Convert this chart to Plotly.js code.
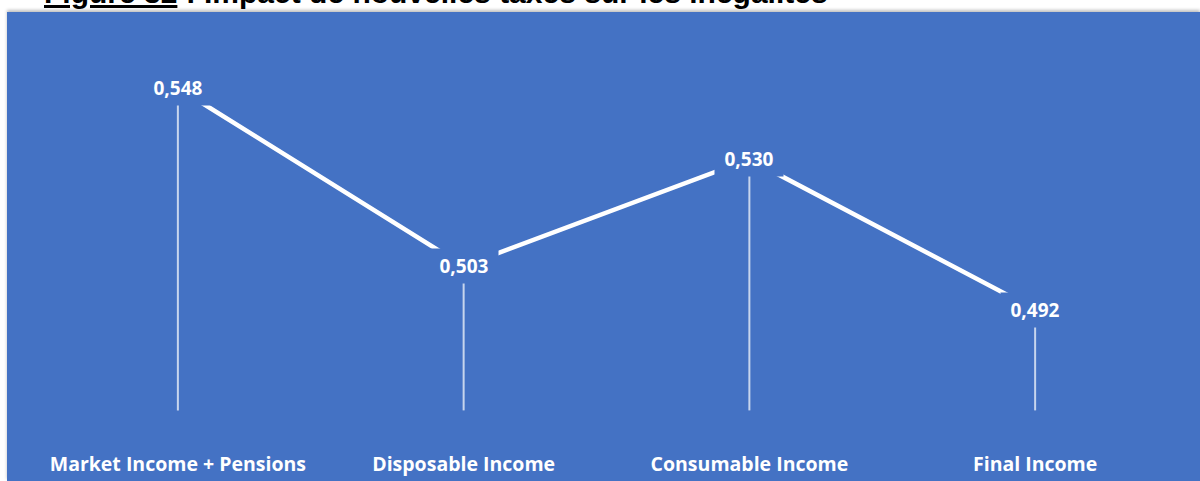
<!DOCTYPE html>
<html>
<head>
<meta charset="utf-8">
<script src="https://cdn.plot.ly/plotly-3.0.1.min.js"></script>
<style>
  html, body { margin: 0; padding: 0; background: #ffffff; }
  #bg { position: absolute; left: 7px; top: 12px; width: 1193px; height: 469px; background: #4472C4;
        box-shadow: 0 -2px 3px rgba(0,0,0,0.25); }
  #chart { position: absolute; left: 0; top: 0; width: 1200px; height: 481px; }
</style>
</head>
<body>
<div id="bg"></div>
<div id="chart"></div>
<script>
// Data
const categories = ["Market Income + Pensions", "Disposable Income", "Consumable Income", "Final Income"];
const giniValues = [0.548, 0.503, 0.530, 0.492];
const valueLabels = ["0,548", "0,503", "0,530", "0,492"];
const dropBase = 0.4665;
const titleText = "<u>Figure 32</u> : Impact de nouvelles taxes sur les inégalités";

const blue = "#4472C4";

const trace = {
  type: "scatter",
  mode: "lines",
  x: categories,
  y: giniValues,
  line: { color: "#ffffff", width: 4.5 },
  error_y: {
    type: "data",
    symmetric: false,
    array: giniValues.map(() => 0),
    arrayminus: giniValues.map(v => v - dropBase),
    color: "rgba(255,255,255,0.7)",
    thickness: 2,
    width: 0
  },
  hoverinfo: "skip",
  showlegend: false,
  cliponaxis: false
};

const labelAnnotations = categories.map((c, i) => ({
  x: c, y: giniValues[i], xref: "x", yref: "y",
  text: "<b>" + valueLabels[i] + "</b>",
  showarrow: false,
  bgcolor: blue,
  width: 68, height: 34, borderpad: 0,
  font: { family: "Open Sans, sans-serif", size: 19, color: "#ffffff" },
  xanchor: "center", yanchor: "middle"
}));

const titleAnnotation = {
  xref: "paper", yref: "paper", x: 0.0061, y: 1,
  xanchor: "left", yanchor: "bottom", yshift: 29,
  text: "<b>" + titleText + "</b>",
  showarrow: false,
  font: { family: "Liberation Sans, Arial, sans-serif", size: 30, color: "#000000" }
};

const layout = {
  width: 1200, height: 481,
  margin: { l: 35, r: 22, t: 40, b: 66 },
  paper_bgcolor: "rgba(0,0,0,0)",
  plot_bgcolor: "rgba(0,0,0,0)",
  xaxis: {
    type: "category",
    range: [-0.5, 3.5],
    showgrid: false, zeroline: false, showline: false,
    ticks: "",
    ticklabelstandoff: 35,
    tickfont: { family: "Open Sans, sans-serif", size: 19.5, color: "#ffffff", weight: "bold" },
    fixedrange: true
  },
  yaxis: {
    range: [0.46534, 0.56013],
    showgrid: false, zeroline: false, showline: false,
    showticklabels: false, ticks: "",
    fixedrange: true
  },
  annotations: [titleAnnotation].concat(labelAnnotations),
  showlegend: false
};

Plotly.newPlot("chart", [trace], layout, { displayModeBar: false, staticPlot: true });
</script>
</body>
</html>
